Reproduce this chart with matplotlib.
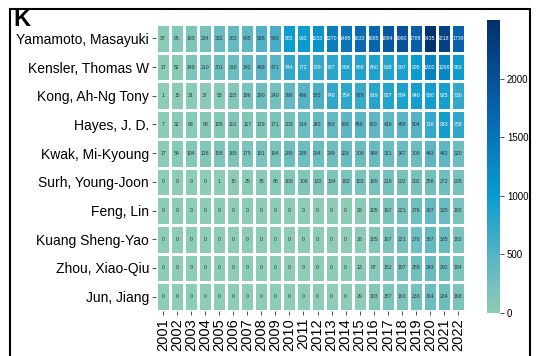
import numpy as np
import matplotlib
matplotlib.use("Agg")
import matplotlib.pyplot as plt
from matplotlib.colors import LinearSegmentedColormap
from matplotlib.patches import Rectangle

plt.rcParams['font.family'] = ['Liberation Sans', 'DejaVu Sans']

authors = ["Yamamoto, Masayuki", "Kensler, Thomas W", "Kong, Ah-Ng Tony",
           "Hayes, J. D.", "Kwak, Mi-Kyoung", "Surh, Young-Joon",
           "Feng, Lin", "Kuang Sheng-Yao", "Zhou, Xiao-Qiu", "Jun, Jiang"]
years = [str(y) for y in range(2001, 2023)]

yamamoto = [37, 95, 163, 234, 332, 362, 405, 536, 583, 982, 993, 1103, 1370, 1495, 1633, 1685, 1884, 1990, 1788, 2435, 2218, 1739]
kensler = [17, 52, 149, 210, 301, 316, 392, 468, 471, 744, 772, 739, 787, 866, 868, 860, 838, 907, 995, 1302, 1269, 983]
kong = [1, 15, 31, 37, 53, 115, 186, 290, 240, 398, 496, 573, 746, 754, 679, 819, 827, 884, 940, 930, 925, 730]
hayes = [7, 32, 68, 89, 105, 110, 117, 129, 171, 203, 314, 342, 363, 439, 458, 420, 416, 458, 504, 716, 933, 758]
kwak = [17, 59, 104, 126, 158, 165, 175, 181, 184, 289, 288, 284, 289, 329, 309, 348, 321, 347, 309, 443, 442, 320]
surh = [0, 0, 0, 0, 1, 15, 25, 35, 65, 100, 108, 132, 134, 182, 183, 189, 219, 202, 202, 256, 272, 205]
feng = [0] * 14 + [28, 105, 167, 221, 276, 367, 335, 183]
kuang = [0] * 14 + [28, 105, 167, 221, 276, 367, 335, 183]
zhou = [0] * 14 + [13, 87, 152, 197, 258, 343, 292, 184]
jun = [0] * 14 + [29, 103, 157, 163, 233, 314, 284, 168]

data = np.array([yamamoto, kensler, kong, hayes, kwak, surh, feng, kuang, zhou, jun])

cmap = LinearSegmentedColormap.from_list(
    "tealblue",
    [(0.0, "#8dcdb6"), (0.2, "#55b3c6"), (0.4, "#0a9bd0"),
     (0.7, "#0761ad"), (1.0, "#03306d")])
vmin, vmax = 0, 2500

W, H = 536, 356
fig = plt.figure(figsize=(W / 100, H / 100), dpi=100)

ax = fig.add_axes([156 / W, (H - 311) / H, 309 / W, 287 / H])
mesh = ax.pcolormesh(data, cmap=cmap, vmin=vmin, vmax=vmax,
                     edgecolors="white", linewidth=0.8)
ax.set_xlim(0, len(years))
ax.set_ylim(len(authors), 0)
ax.set_xticks(np.arange(len(years)) + 0.5)
ax.set_xticklabels(years, rotation=90, fontsize=10.5)
ax.set_yticks(np.arange(len(authors)) + 0.5)
ax.set_yticklabels(authors, fontsize=10)
ax.tick_params(length=3, width=0.6, color="#333333", pad=2)
for s in ax.spines.values():
    s.set_visible(False)

for i in range(data.shape[0]):
    for j in range(data.shape[1]):
        v = data[i, j]
        ax.text(j + 0.5, i + 0.5, str(v), ha="center", va="center",
                fontsize=3.7, color="white" if v >= 700 else "#333333")

cax = fig.add_axes([487 / W, (H - 313) / H, 13 / W, 293 / H])
cb = fig.colorbar(mesh, cax=cax)
cb.outline.set_visible(False)
cb.set_ticks([0, 500, 1000, 1500, 2000])
cax.tick_params(labelsize=7, length=3, width=0.6, color="#333333", pad=2)

# panel frame and letter
fig.patches.append(Rectangle((10 / W, -0.05), 520 / W, 0.05 + (H - 9) / H,
                             transform=fig.transFigure, fill=False,
                             edgecolor="black", linewidth=1.5, zorder=10))
fig.text(13 / W, (H - 8) / H, "K", fontsize=17, fontweight="bold",
         ha="left", va="top")

fig.savefig("out.png", dpi=100)
